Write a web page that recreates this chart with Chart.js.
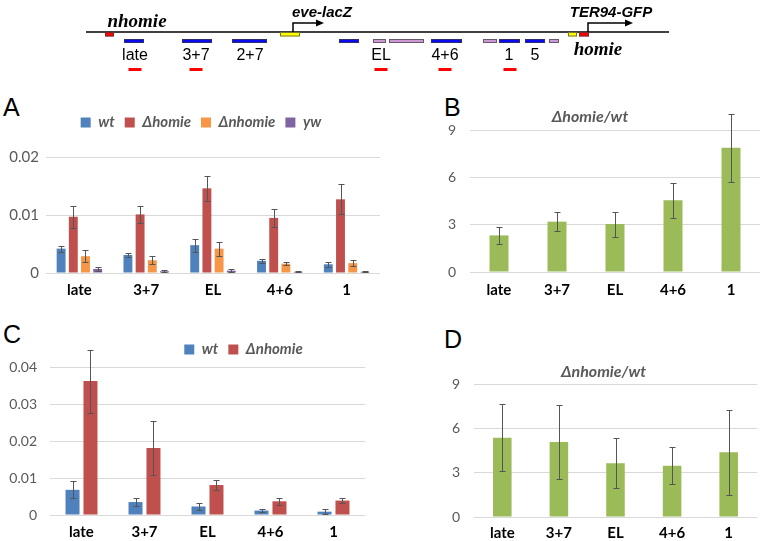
<!DOCTYPE html>
<html lang="en">
<head>
<meta charset="UTF-8">
<title>homie / nhomie RNA levels</title>
<script src="https://cdn.jsdelivr.net/npm/chart.js"></script>
<style>
    * { margin: 0; padding: 0; box-sizing: border-box; }
    body {
        width: 763px;
        height: 541px;
        background: #fff;
        position: relative;
        overflow: hidden;
    }
    .panel { position: absolute; }
    .letter {
        position: absolute;
        font: 25px "Liberation Sans", Arial, sans-serif;
        line-height: 1;
        color: #000;
    }
</style>
</head>
<body>

<!-- construct map -->
<div class="panel" style="left:0; top:0; width:763px; height:80px;"><canvas id="mapChart"></canvas></div>

<div class="letter" style="left:3px; top:95px;">A</div>
<div class="letter" style="left:444px; top:95px;">B</div>
<div class="letter" style="left:3px; top:322px;">C</div>
<div class="letter" style="left:444px; top:327px;">D</div>

<div class="panel" style="left:0; top:85px; width:380px; height:215px;"><canvas id="chartA"></canvas></div>
<div class="panel" style="left:420px; top:85px; width:340px; height:215px;"><canvas id="chartB"></canvas></div>
<div class="panel" style="left:0; top:320px; width:380px; height:221px;"><canvas id="chartC"></canvas></div>
<div class="panel" style="left:450px; top:320px; width:310px; height:221px;"><canvas id="chartD"></canvas></div>

<script>
    // ---- data ----
    const regions = ['late', '3+7', 'EL', '4+6', '1'];

    // A: RNA level relative to reference
    const wtA        = [0.0042, 0.0031, 0.0048, 0.0021, 0.0015];
    const wtAErr     = [0.0005, 0.0004, 0.0011, 0.0004, 0.0004];
    const homieA     = [0.0097, 0.0101, 0.0146, 0.0095, 0.0127];
    const homieAErr  = [0.0019, 0.0015, 0.0021, 0.0016, 0.0026];
    const nhomieA    = [0.0029, 0.0022, 0.0042, 0.0016, 0.0017];
    const nhomieAErr = [0.0010, 0.0007, 0.0012, 0.0003, 0.0005];
    const ywA        = [0.0007, 0.0003, 0.0004, 0.0002, 0.0002];
    const ywAErr     = [0.0003, 0.0002, 0.0003, 0.0001, 0.0001];
    const ticksA     = [0, 0.01, 0.02];

    // B: ratio
    const ratioB    = [2.32, 3.19, 3.04, 4.54, 7.88];
    const ratioBErr = [0.53, 0.59, 0.79, 1.10, 2.15];
    const ticksB    = [0, 3, 6, 9];

    // C
    const wtC        = [0.0068, 0.0035, 0.0023, 0.0012, 0.0009];
    const wtCErr     = [0.0023, 0.0010, 0.0010, 0.0004, 0.0006];
    const nhomieC    = [0.0362, 0.0181, 0.0081, 0.0037, 0.0039];
    const nhomieCErr = [0.0085, 0.0073, 0.0013, 0.0009, 0.0006];
    const ticksC     = [0, 0.01, 0.02, 0.03, 0.04];

    // D: ratio
    const ratioD    = [5.37, 5.08, 3.63, 3.47, 4.38];
    const ratioDErr = [2.25, 2.50, 1.70, 1.26, 2.86];
    const ticksD    = [0, 3, 6, 9];

    // construct map (x in map units along the transgene)
    const mapSpan = [86, 669];
    const mapBoxes = [
        [105, 114, 'on', 'insulator'],
        [124, 144, 'below', 'enhancer'],
        [182, 212, 'below', 'enhancer'],
        [232, 267, 'below', 'enhancer'],
        [280, 300, 'on', 'promoter'],
        [339, 359, 'below', 'enhancer'],
        [373, 386, 'below', 'other'],
        [389, 424, 'below', 'other'],
        [431, 462, 'below', 'enhancer'],
        [483, 497, 'below', 'other'],
        [499, 520, 'below', 'enhancer'],
        [525, 545, 'below', 'enhancer'],
        [549, 559, 'below', 'other'],
        [568, 577, 'on', 'promoter'],
        [579, 589, 'on', 'insulator']
    ];
    const mapLabels = [['late', 135], ['3+7', 196], ['2+7', 250], ['EL', 381], ['4+6', 445], ['1', 509], ['5', 535]];
    const probes = [135, 196, 381, 445, 510];
    const reporters = [['eve-lacZ', 293, 324, 322], ['TER94-GFP', 588, 633, 611]];
    const insulators = [['nhomie', 137, 'above'], ['homie', 598, 'below']];

    const FONT = "Lato, 'Liberation Sans', Arial, sans-serif";
    Chart.defaults.font.family = FONT;

    const colors = {
        wt: '#4f81bd', homie: '#c0504d', nhomie: '#f79646', yw: '#8064a2', ratio: '#9bbb59'
    };
    const boxColors = {
        insulator: '#ff0000', enhancer: '#0a0af0', promoter: '#ffff00', other: '#cc99d6'
    };

    // ---- map drawn on library scales ----
    const mapPlugin = {
        id: 'mapPlugin',
        afterDraw(chart) {
            const ctx = chart.ctx, x = chart.scales.x, y = chart.scales.y;
            const px = v => x.getPixelForValue(v), py = v => y.getPixelForValue(v);
            const lineY = 32;
            const tracks = { on: [32, 36.5], below: [39, 43] };
            ctx.save();
            // backbone
            ctx.strokeStyle = '#000';
            ctx.lineWidth = 1.5;
            ctx.beginPath();
            ctx.moveTo(px(mapSpan[0]), py(lineY));
            ctx.lineTo(px(mapSpan[1]), py(lineY));
            ctx.stroke();
            // boxes
            mapBoxes.forEach(([s, e, track, kind]) => {
                const [t, b] = tracks[track];
                ctx.fillStyle = boxColors[kind];
                ctx.fillRect(px(s), py(t), px(e) - px(s), py(b) - py(t));
                ctx.strokeStyle = 'rgba(60,60,60,0.7)';
                ctx.lineWidth = 1;
                ctx.strokeRect(px(s) + 0.5, py(t) + 0.5, px(e) - px(s) - 1, py(b) - py(t) - 1);
            });
            // promoter arrows and reporter names
            reporters.forEach(([name, start, end, mid]) => {
                ctx.strokeStyle = '#000';
                ctx.lineWidth = 1.5;
                ctx.beginPath();
                ctx.moveTo(px(start), py(lineY));
                ctx.lineTo(px(start), py(23));
                ctx.lineTo(px(end) - 6, py(23));
                ctx.stroke();
                ctx.fillStyle = '#000';
                ctx.beginPath();
                ctx.moveTo(px(end), py(23));
                ctx.lineTo(px(end) - 8, py(23) - 3.5);
                ctx.lineTo(px(end) - 8, py(23) + 3.5);
                ctx.closePath();
                ctx.fill();
                ctx.font = "italic bold 15px 'Liberation Sans', Arial, sans-serif";
                ctx.textAlign = 'center';
                ctx.textBaseline = 'alphabetic';
                ctx.fillText(name, px(mid), py(17));
            });
            // insulator names
            ctx.font = "italic bold 19px 'Liberation Serif', 'Times New Roman', serif";
            insulators.forEach(([name, mid, side]) => {
                ctx.fillText(name, px(mid), py(side === 'above' ? 27 : 55));
            });
            // region labels
            ctx.font = "16px 'Liberation Sans', Arial, sans-serif";
            mapLabels.forEach(([name, mid]) => ctx.fillText(name, px(mid), py(60)));
            // probe amplicons
            ctx.fillStyle = '#ff0000';
            probes.forEach(mid => ctx.fillRect(px(mid - 6.5), py(68), px(mid + 6.5) - px(mid - 6.5), py(71) - py(68)));
            ctx.restore();
        }
    };

    new Chart(document.getElementById('mapChart'), {
        type: 'scatter',
        data: { datasets: [] },
        options: {
            responsive: true, maintainAspectRatio: false, animation: false,
            layout: { padding: 0 },
            plugins: { legend: { display: false }, tooltip: { enabled: false } },
            scales: {
                x: { type: 'linear', min: 0, max: 763, display: false },
                y: { type: 'linear', min: 0, max: 80, reverse: true, display: false }
            }
        },
        plugins: [mapPlugin]
    });

    // ---- error bars ----
    const errorBars = {
        id: 'errorBars',
        afterDatasetsDraw(chart) {
            const ctx = chart.ctx, ys = chart.scales.y;
            ctx.save();
            ctx.strokeStyle = '#555';
            ctx.lineWidth = 1;
            chart.data.datasets.forEach((ds, i) => {
                if (!ds.errors) return;
                chart.getDatasetMeta(i).data.forEach((bar, j) => {
                    const v = ds.data[j], e = ds.errors[j];
                    const top = Math.round(ys.getPixelForValue(v + e)) + 0.5;
                    const bot = Math.round(ys.getPixelForValue(Math.max(v - e, 0))) + 0.5;
                    const bx = Math.round(bar.x) + 0.5;
                    ctx.beginPath();
                    ctx.moveTo(bx, top); ctx.lineTo(bx, bot);
                    ctx.moveTo(bx - 3, top); ctx.lineTo(bx + 3, top);
                    ctx.moveTo(bx - 3, bot); ctx.lineTo(bx + 3, bot);
                    ctx.stroke();
                });
            });
            ctx.restore();
        }
    };

    // legend spacing / placement
    const legendPlace = {
        id: 'legendPlace',
        beforeInit(chart, args, opts) {
            if (!chart.legend) return;
            const fit = chart.legend.fit;
            chart.legend.fit = function () {
                fit.call(this);
                this.height += opts.gap || 0;
            };
        },
        afterLayout(chart, args, opts) {
            const lg = chart.legend;
            if (!lg || opts.center === undefined) return;
            const shift = opts.center - (lg.left + lg.right) / 2;
            lg.left += shift;
            lg.right += shift;
        }
    };

    function baseOptions(o) {
        return {
            responsive: true, maintainAspectRatio: false, animation: false,
            layout: { padding: o.padding },
            plugins: {
                tooltip: { enabled: false },
                legend: o.legend ? {
                    display: true, position: 'top',
                    labels: {
                        boxWidth: 10, boxHeight: 10, padding: 10, color: '#595959',
                        font: { size: 15, weight: 'bold', style: 'italic' }
                    }
                } : { display: false },
                title: o.title ? {
                    display: true, text: o.title, color: '#595959',
                    font: { size: 16, weight: 'bold', style: 'italic' },
                    padding: o.titlePad
                } : { display: false },
                legendPlace: o.place || {}
            },
            scales: {
                x: {
                    grid: { display: false, drawTicks: false },
                    border: { display: false },
                    ticks: { color: '#000', font: { size: 15, weight: 'bold' }, padding: o.xPad, maxRotation: 0 },
                    afterFit: s => { s.height = o.xHeight; }
                },
                y: {
                    min: 0, max: o.max,
                    grid: { color: '#d9d9d9', drawTicks: false },
                    border: { display: false },
                    ticks: { color: '#595959', font: { size: o.tickSize }, padding: o.yPad },
                    afterBuildTicks: s => { s.ticks = o.ticks.map(v => ({ value: v })); },
                    afterFit: s => { s.width = o.yWidth; }
                }
            }
        };
    }

    function bars(label, data, errors, color, cat, bar) {
        return {
            label: label, data: data, errors: errors,
            backgroundColor: color, borderWidth: 0,
            categoryPercentage: cat, barPercentage: bar
        };
    }

    new Chart(document.getElementById('chartA'), {
        type: 'bar',
        data: {
            labels: regions,
            datasets: [
                bars('wt', wtA, wtAErr, colors.wt, 0.73, 0.73),
                bars('\u0394homie', homieA, homieAErr, colors.homie, 0.73, 0.73),
                bars('\u0394nhomie', nhomieA, nhomieAErr, colors.nhomie, 0.73, 0.73),
                bars('yw', ywA, ywAErr, colors.yw, 0.73, 0.73)
            ]
        },
        options: baseOptions({
            padding: { top: 20, right: 0, bottom: 0, left: 0 },
            legend: true, place: { gap: 17, center: 201 },
            max: 0.02, ticks: ticksA, tickSize: 15, yPad: 7, yWidth: 46,
            xPad: 8, xHeight: 27
        }),
        plugins: [errorBars, legendPlace]
    });

    new Chart(document.getElementById('chartB'), {
        type: 'bar',
        data: {
            labels: regions,
            datasets: [bars('\u0394homie/wt', ratioB, ratioBErr, colors.ratio, 0.42, 0.78)]
        },
        options: baseOptions({
            padding: { top: 0, right: 0, bottom: 0, left: 0 },
            title: '\u0394homie/wt', titlePad: { top: 22.4, bottom: 3.4 },
            max: 9, ticks: ticksB, tickSize: 14, yPad: 14, yWidth: 50,
            xPad: 9, xHeight: 28
        }),
        plugins: [errorBars]
    });

    new Chart(document.getElementById('chartC'), {
        type: 'bar',
        data: {
            labels: regions,
            datasets: [
                bars('wt', wtC, wtCErr, colors.wt, 0.57, 0.78),
                bars('\u0394nhomie', nhomieC, nhomieCErr, colors.homie, 0.57, 0.78)
            ]
        },
        options: baseOptions({
            padding: { top: 12, right: 15, bottom: 0, left: 0 },
            legend: true, place: { gap: 0, center: 243.5 },
            max: 0.04, ticks: ticksC, tickSize: 14, yPad: 13, yWidth: 50,
            xPad: 8, xHeight: 26
        }),
        plugins: [errorBars, legendPlace]
    });

    new Chart(document.getElementById('chartD'), {
        type: 'bar',
        data: {
            labels: regions,
            datasets: [bars('\u0394nhomie/wt', ratioD, ratioDErr, colors.ratio, 0.42, 0.78)]
        },
        options: baseOptions({
            padding: { top: 0, right: 3, bottom: 0, left: 0 },
            title: '\u0394nhomie/wt', titlePad: { top: 42.4, bottom: 2.4 },
            max: 9, ticks: ticksD, tickSize: 14, yPad: 14, yWidth: 24,
            xPad: 7, xHeight: 24
        }),
        plugins: [errorBars]
    });
</script>
</body>
</html>
